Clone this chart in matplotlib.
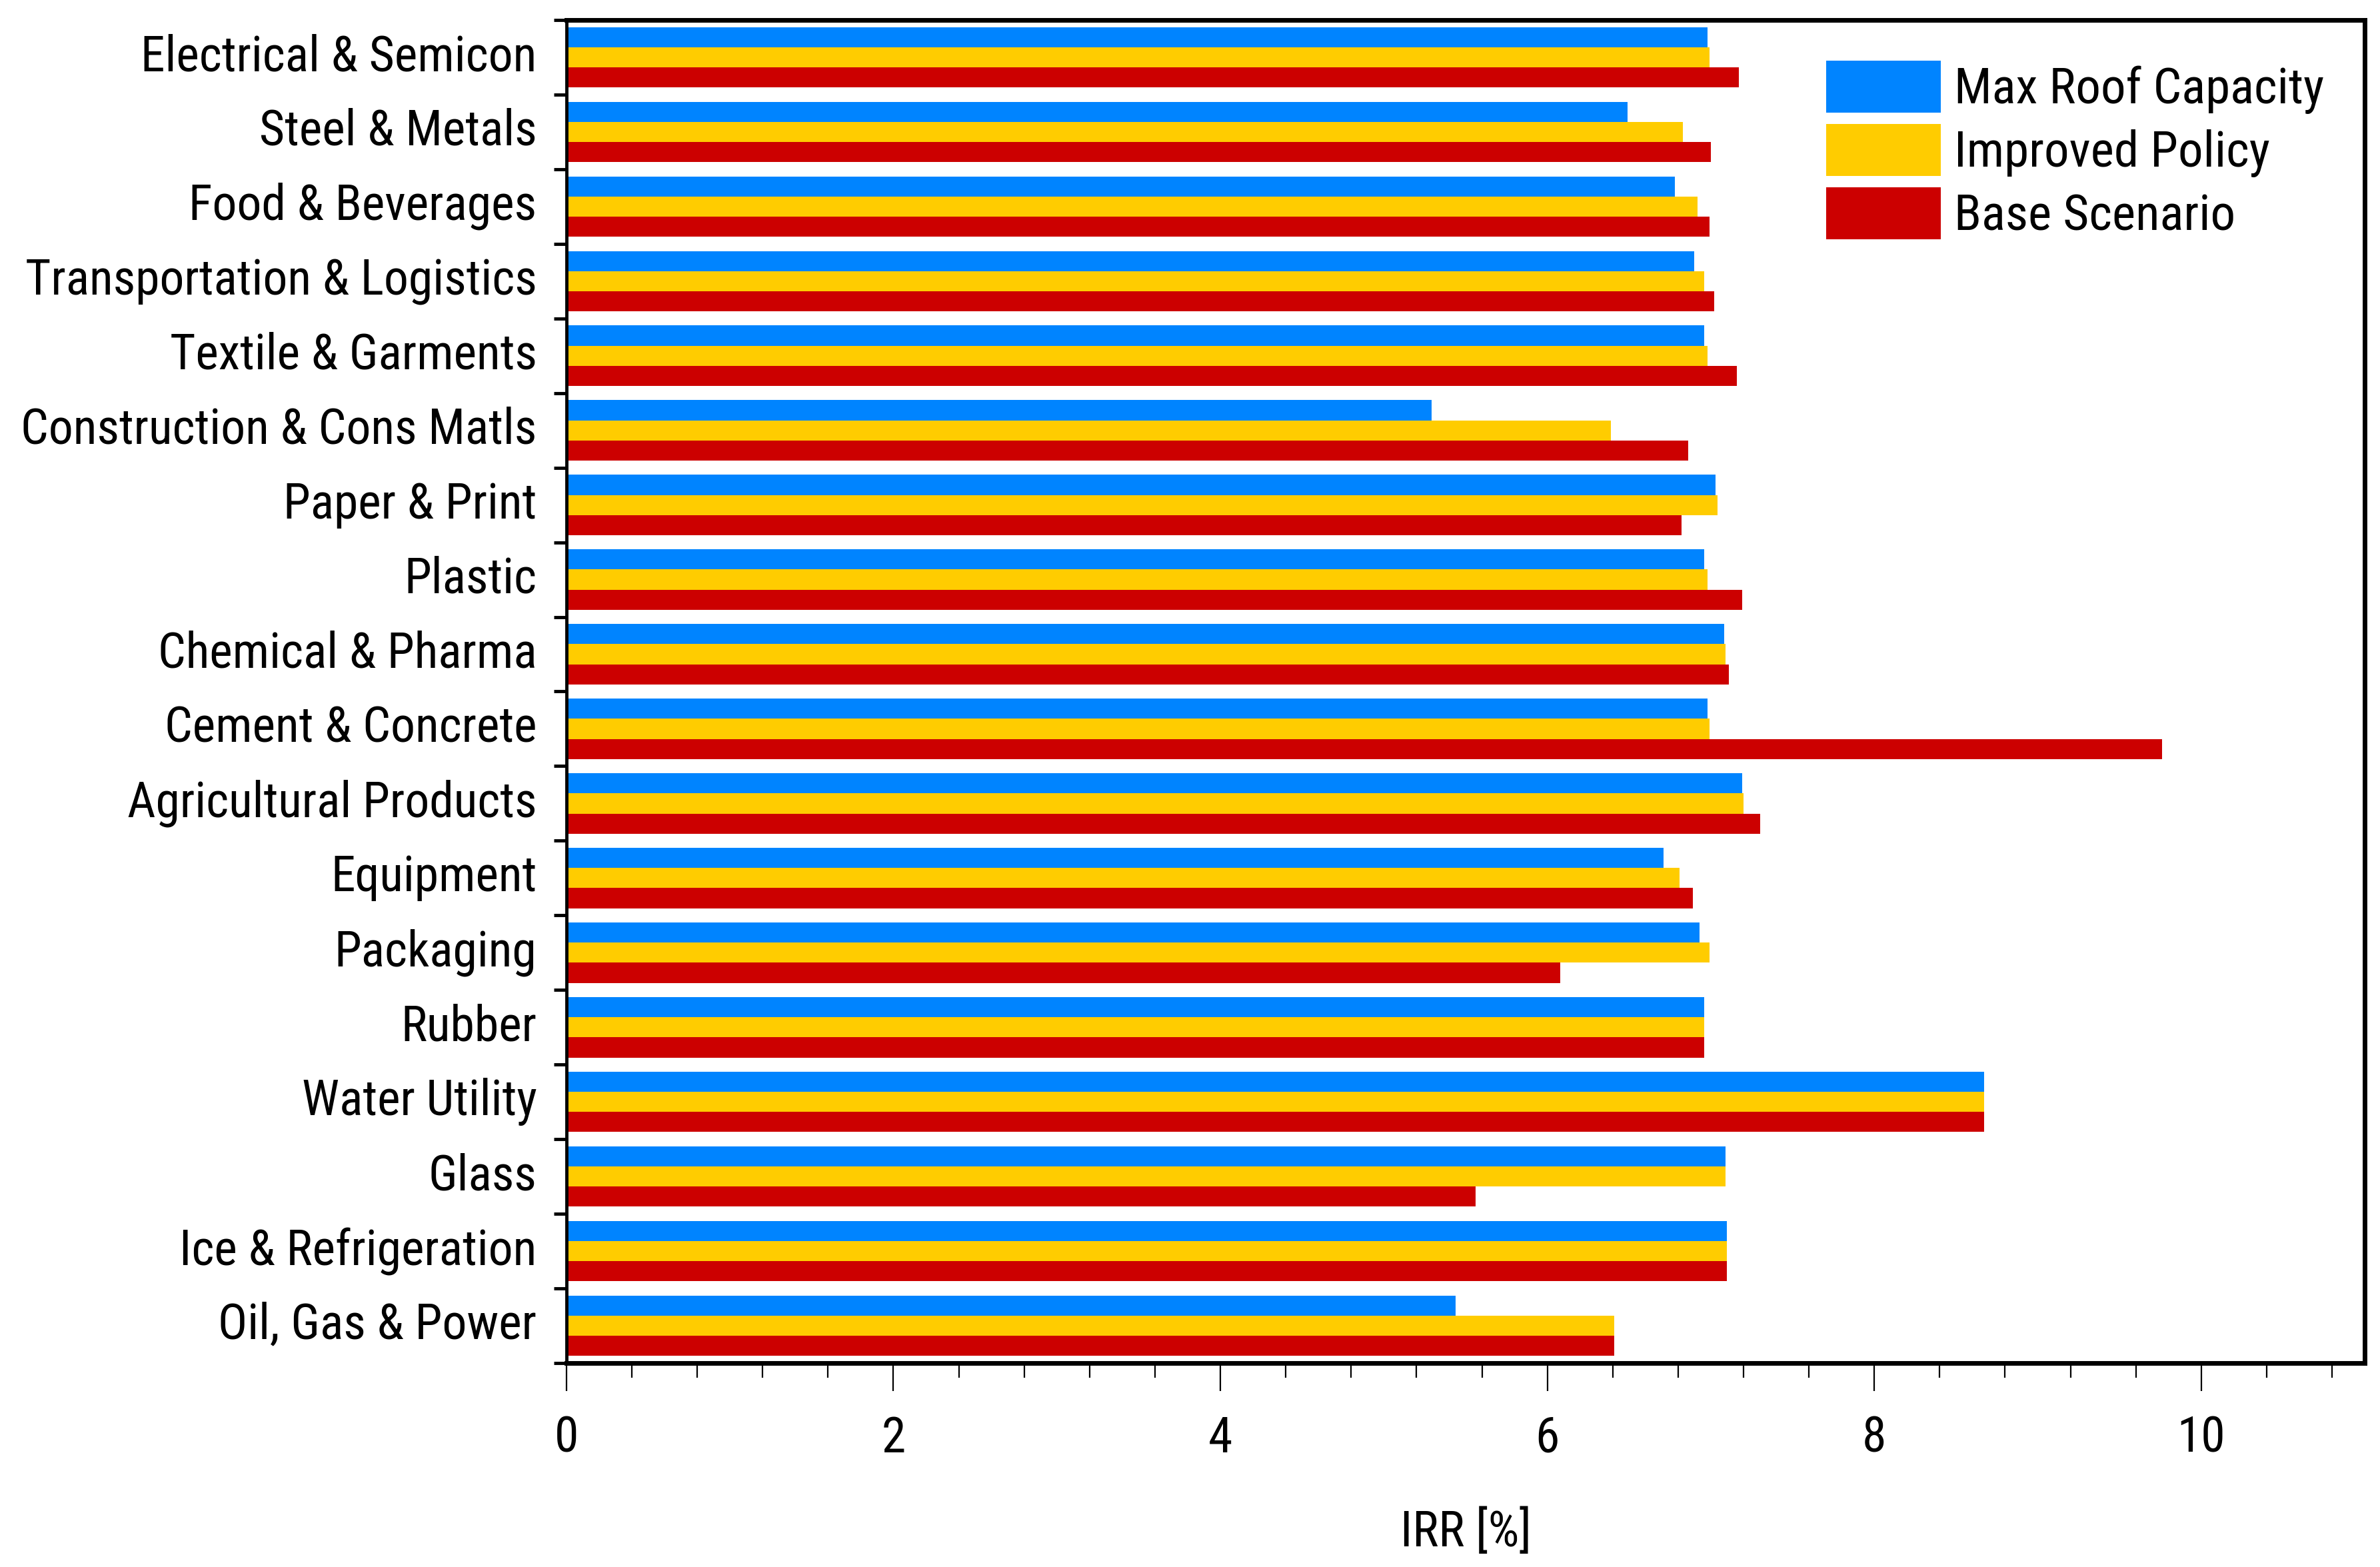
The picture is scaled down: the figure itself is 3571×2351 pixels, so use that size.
import numpy as np
import matplotlib
matplotlib.use("Agg")
import matplotlib.pyplot as plt
from matplotlib import font_manager as fm
from matplotlib.ticker import MultipleLocator, FixedLocator
from matplotlib.transforms import ScaledTranslation


# pick a condensed family if one is installed
available = {f.name for f in fm.fontManager.ttflist}
for fam in ["Roboto Condensed", "Liberation Sans Narrow", "Open Sans Condensed", "Roboto", "DejaVu Sans"]:
    if fam in available:
        font_name = fam
        break
plt.rcParams['font.family'] = [font_name, 'DejaVu Sans']


sectors = [
    "Electrical & Semicon", "Steel & Metals", "Food & Beverages",
    "Transportation & Logistics", "Textile & Garments", "Construction & Cons Matls",
    "Paper & Print", "Plastic", "Chemical & Pharma", "Cement & Concrete",
    "Agricultural Products", "Equipment", "Packaging", "Rubber",
    "Water Utility", "Glass", "Ice & Refrigeration", "Oil, Gas & Power",
]

max_roof = [6.98, 6.49, 6.78, 6.90, 6.96, 5.29, 7.03, 6.96, 7.08, 6.98,
            7.19, 6.71, 6.93, 6.96, 8.67, 7.09, 7.10, 5.44]
improved = [6.99, 6.83, 6.92, 6.96, 6.98, 6.39, 7.04, 6.98, 7.09, 6.99,
            7.20, 6.81, 6.99, 6.96, 8.67, 7.09, 7.10, 6.41]
base = [7.17, 7.00, 6.99, 7.02, 7.16, 6.86, 6.82, 7.19, 7.11, 9.76,
        7.30, 6.89, 6.08, 6.96, 8.67, 5.56, 7.10, 6.41]

series = [("Max Roof Capacity", max_roof, "#0084ff"),
          ("Improved Policy", improved, "#ffcc00"),
          ("Base Scenario", base, "#cc0000")]

fig = plt.figure(figsize=(35.71, 23.51), dpi=100)
ax = fig.add_axes([0.238, 0.1302, 0.7556, 0.857])

y = np.arange(len(sectors))
h = 0.27
for j, (name, vals, col) in enumerate(series):
    ax.barh(y + (j - 1) * h, vals, height=h, color=col, label=name, linewidth=0)

ax.set_xlim(0, 11)
ax.set_ylim(len(sectors) - 0.5, -0.5)

ax.xaxis.set_major_locator(MultipleLocator(2))
ax.xaxis.set_minor_locator(MultipleLocator(0.4))
ax.tick_params(axis='x', which='major', direction='out', length=30, width=1.6,
               labelsize=53, pad=26, top=False)
ax.tick_params(axis='x', which='minor', direction='out', length=16, width=1.6, top=False)

ax.set_yticks(y)
ax.set_yticklabels(sectors)
ax.yaxis.set_minor_locator(FixedLocator(np.arange(len(sectors) + 1) - 0.5))
ax.tick_params(axis='y', which='major', length=0, labelsize=53, pad=32)
ax.tick_params(axis='y', which='minor', direction='out', length=14, width=3.5, right=False)

# labels sit a little above the group centres in the original
shift = ScaledTranslation(0, 0.08, fig.dpi_scale_trans)
for lbl in ax.get_yticklabels():
    lbl.set_transform(lbl.get_transform() + shift)

for side in ['top', 'bottom', 'right']:
    ax.spines[side].set_linewidth(5)
ax.spines['left'].set_linewidth(3.5)

ax.set_xlabel("IRR [%]", fontsize=53, labelpad=50)

ax.legend(loc='upper right', bbox_to_anchor=(0.997, 0.996), frameon=False, fontsize=54,
          handlelength=2.3, handleheight=1.22, labelspacing=0.2, handletextpad=0.27,
          borderaxespad=0.3)

fig.savefig("out.png", dpi=100)
